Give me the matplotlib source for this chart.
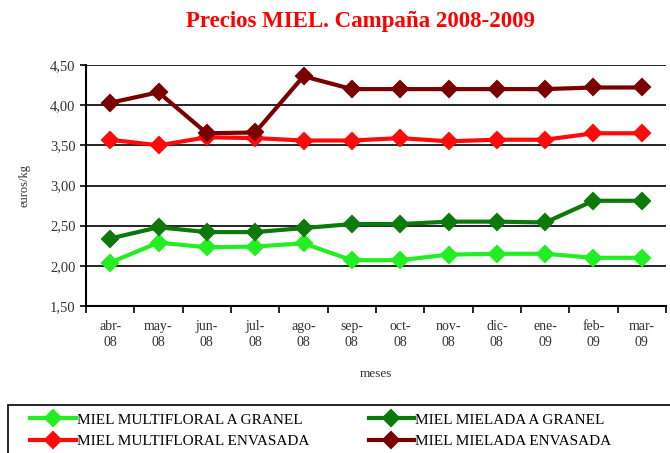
import matplotlib
matplotlib.use("Agg")
import matplotlib.pyplot as plt
from matplotlib.patches import Rectangle
from matplotlib.ticker import FuncFormatter

# datos (euros/kg)
meses = ["abr-\n08", "may-\n08", "jun-\n08", "jul-\n08", "ago-\n08", "sep-\n08",
         "oct-\n08", "nov-\n08", "dic-\n08", "ene-\n09", "feb-\n09", "mar-\n09"]
multifloral_granel = [2.04, 2.29, 2.23, 2.24, 2.28, 2.07, 2.07, 2.14, 2.15, 2.15, 2.10, 2.10]
mielada_granel = [2.34, 2.48, 2.42, 2.42, 2.47, 2.52, 2.52, 2.55, 2.55, 2.54, 2.81, 2.81]
multifloral_envasada = [3.57, 3.50, 3.60, 3.59, 3.56, 3.56, 3.59, 3.55, 3.57, 3.57, 3.65, 3.65]
mielada_envasada = [4.03, 4.16, 3.65, 3.66, 4.36, 4.20, 4.20, 4.20, 4.20, 4.20, 4.22, 4.22]

series = [
    ("MIEL MULTIFLORAL A GRANEL", multifloral_granel, "#22ee22"),
    ("MIEL MULTIFLORAL ENVASADA", multifloral_envasada, "#ff0a0a"),
    ("MIEL MIELADA A GRANEL", mielada_granel, "#0b7a0b"),
    ("MIEL MIELADA ENVASADA", mielada_envasada, "#7a0000"),
]

plt.rcParams["font.family"] = ["Liberation Serif", "DejaVu Serif"]

fig = plt.figure(figsize=(6.70, 4.53), dpi=100)
ax = fig.add_axes([86 / 670, 1 - 306 / 453, 580 / 670, 241 / 453])

x = list(range(len(meses)))
for nombre, valores, color in series:
    ax.plot(x, valores, color=color, linewidth=3, marker="D", markersize=8,
            markeredgewidth=1.5, markeredgecolor=color, label=nombre)

ax.set_xlim(-0.5, len(meses) - 0.5)
ax.set_ylim(1.5, 4.5)
ax.set_yticks([1.5, 2.0, 2.5, 3.0, 3.5, 4.0, 4.5])
ax.yaxis.set_major_formatter(FuncFormatter(lambda v, p: f"{v:.2f}".replace(".", ",")))
ax.set_xticks([i + 0.5 for i in range(-1, len(meses))], minor=False)
ax.set_xticklabels([])
ax.set_xticks(x, minor=True)
ax.set_xticklabels(meses, minor=True, fontsize=10, color="#333333", linespacing=1.3)
ax.tick_params(axis="x", which="major", direction="out", length=5, width=1.2)
ax.tick_params(axis="x", which="minor", length=0, pad=10)
ax.tick_params(axis="y", direction="out", length=4, width=1.2, labelsize=10.5,
               labelcolor="#333333")
ax.grid(axis="y", color="black", linewidth=1.2)
ax.set_axisbelow(True)
for s in ["top", "right"]:
    ax.spines[s].set_visible(False)
ax.spines["left"].set_linewidth(1.5)
ax.spines["bottom"].set_linewidth(1.5)

ax.set_ylabel("euros/kg", fontsize=9, color="#333333", labelpad=14)
ax.set_xlabel("meses", fontsize=9.5, color="#333333", labelpad=14)

fig.text(360 / 670, 1 - 22 / 453, "Precios MIEL. Campaña 2008-2009", color="red",
         fontsize=16.5, fontweight="bold", ha="center", va="center")

# recuadro de la leyenda (cortado por el borde derecho e inferior)
fig.patches.append(Rectangle((8 / 670, -0.05), 0.99, 0.05 + 48 / 453,
                             transform=fig.transFigure, fill=False,
                             edgecolor="black", linewidth=1.2))

leg = fig.legend(loc="upper left", bbox_to_anchor=(30 / 670, 1 - 413 / 453),
                 ncol=2, frameon=False, fontsize=11,
                 handlelength=3.0, handletextpad=0.05, borderaxespad=0, labelspacing=0.5,
                 borderpad=0, columnspacing=3.9)

fig.savefig("out.png", dpi=100)
